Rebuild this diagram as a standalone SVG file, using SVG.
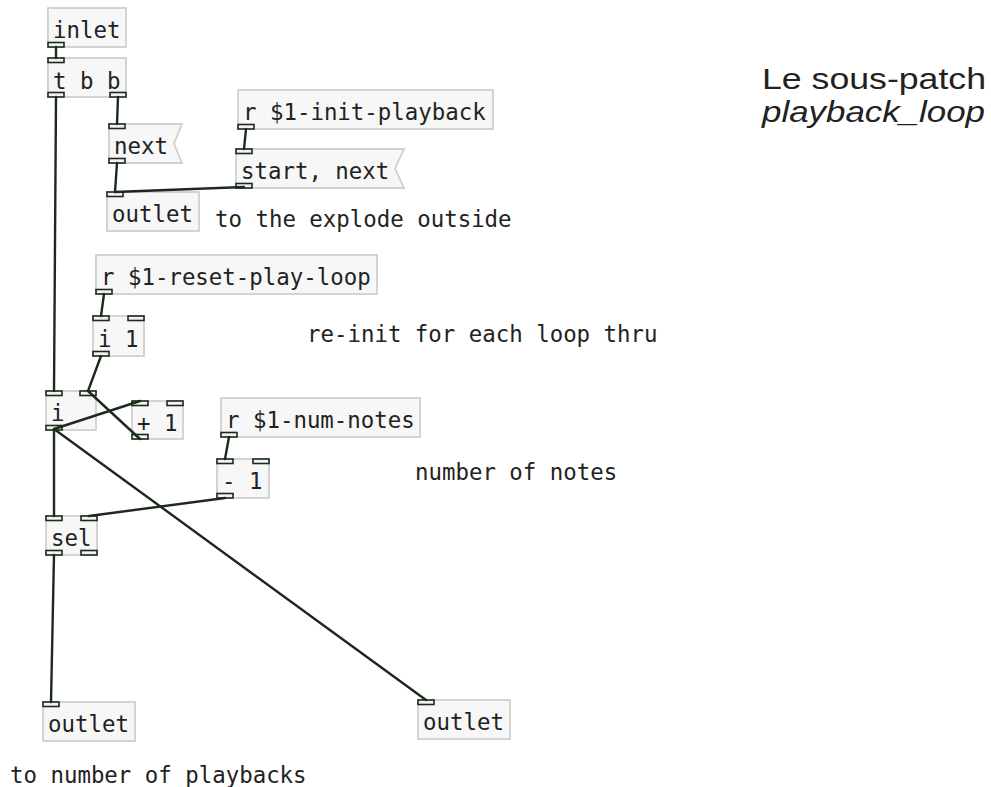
<svg xmlns="http://www.w3.org/2000/svg" width="991" height="787" viewBox="0 0 991 787">
<style>
.box{fill:#f6f7f6;stroke:#cfd0cf;stroke-width:1.8}
.port{fill:#f3f5f3;stroke:#1b2a1b;stroke-width:1.6}
.t{font-family:"DejaVu Sans Mono",monospace;font-size:22.4px;fill:#222}
.cord{stroke:#1b2a1b;stroke-width:2.4;fill:none;stroke-linecap:round}
.title{font-family:"Liberation Sans",Arial,sans-serif;font-size:30px;fill:#222}
</style>
<rect width="991" height="787" fill="#ffffff"/>
<g id="nodes">
<g id="inlet"><rect class="box" x="48" y="8" width="78" height="39"/><text class="t" x="53" y="37.5">inlet</text><rect class="port" x="48" y="42.5" width="16" height="4.5"/></g>
<g id="tbb"><rect class="box" x="48" y="58" width="78" height="39"/><text class="t" x="53" y="88.5">t b b</text><rect class="port" x="48" y="58" width="16" height="4.5"/><rect class="port" x="110" y="92.5" width="16" height="4.5"/><rect class="port" x="48" y="92.5" width="16" height="4.5"/></g>
<g id="next"><path class="box" d="M109,124 H182 L174,143.5 L182,163 H109 Z"/><text class="t" x="114" y="153.5">next</text><rect class="port" x="109" y="124" width="16" height="4.5"/><rect class="port" x="109" y="158.5" width="16" height="4.5"/></g>
<g id="outlet1"><rect class="box" x="107" y="192" width="92" height="39"/><text class="t" x="112" y="221.5">outlet</text><rect class="port" x="107" y="192" width="16" height="4.5"/></g>
<g id="rinit"><rect class="box" x="238" y="90" width="255" height="39"/><text class="t" x="243" y="119.5">r $1-init-playback</text><rect class="port" x="238" y="124.5" width="16" height="4.5"/></g>
<g id="startnext"><path class="box" d="M236,149 H404 L395,168.5 L404,188 H236 Z"/><text class="t" x="241" y="178.5">start, next</text><rect class="port" x="236" y="149" width="16" height="4.5"/><rect class="port" x="236" y="183.5" width="16" height="4.5"/></g>
<g id="rreset"><rect class="box" x="96" y="255" width="281" height="39"/><text class="t" x="101" y="284.5">r $1-reset-play-loop</text><rect class="port" x="96" y="289.5" width="16" height="4.5"/></g>
<g id="i1"><rect class="box" x="93" y="316" width="51" height="40"/><text class="t" x="98" y="346.5">i 1</text><rect class="port" x="93" y="316" width="16" height="4.5"/><rect class="port" x="128" y="316" width="16" height="4.5"/><rect class="port" x="93" y="351.5" width="16" height="4.5"/></g>
<g id="i"><rect class="box" x="46" y="391" width="50" height="39"/><text class="t" x="51" y="420.5">i</text><rect class="port" x="46" y="391" width="16" height="4.5"/><rect class="port" x="80" y="391" width="16" height="4.5"/><rect class="port" x="46" y="425.5" width="16" height="4.5"/></g>
<g id="plus1"><rect class="box" x="132" y="401" width="51" height="38"/><text class="t" x="137" y="430.5">+ 1</text><rect class="port" x="132" y="401" width="16" height="4.5"/><rect class="port" x="167" y="401" width="16" height="4.5"/><rect class="port" x="132" y="434.5" width="16" height="4.5"/></g>
<g id="rnum"><rect class="box" x="221" y="398" width="199" height="39"/><text class="t" x="226" y="427.5">r $1-num-notes</text><rect class="port" x="221" y="432.5" width="16" height="4.5"/></g>
<g id="minus1"><rect class="box" x="217" y="459" width="52" height="39"/><text class="t" x="222" y="488.5">- 1</text><rect class="port" x="217" y="459" width="16" height="4.5"/><rect class="port" x="253" y="459" width="16" height="4.5"/><rect class="port" x="217" y="493.5" width="16" height="4.5"/></g>
<g id="sel"><rect class="box" x="46" y="516" width="51" height="39"/><text class="t" x="51" y="545.5">sel</text><rect class="port" x="46" y="516" width="16" height="4.5"/><rect class="port" x="81" y="516" width="16" height="4.5"/><rect class="port" x="46" y="550.5" width="16" height="4.5"/><rect class="port" x="81" y="550.5" width="16" height="4.5"/></g>
<g id="outlet2"><rect class="box" x="43" y="702" width="92" height="39"/><text class="t" x="48" y="731.5">outlet</text><rect class="port" x="43" y="702" width="16" height="4.5"/></g>
<g id="outlet3"><rect class="box" x="418" y="700" width="92" height="39"/><text class="t" x="423" y="729.5">outlet</text><rect class="port" x="418" y="700" width="16" height="4.5"/></g>
<g id="comments">
<text class="t" x="215" y="227">to the explode outside</text>
<text class="t" x="307" y="342">re-init for each loop thru</text>
<text class="t" x="415" y="480">number of notes</text>
<text class="t" x="10" y="783">to number of playbacks</text>
</g>
<g id="title">
<text class="title" x="762" y="89" textLength="224" lengthAdjust="spacingAndGlyphs">Le sous-patch</text>
<text class="title" x="762" y="122" font-style="italic" textLength="223" lengthAdjust="spacingAndGlyphs">playback_loop</text>
</g>
</g>
<g id="connectors">
<line class="cord" x1="56" y1="47" x2="56" y2="58"/>
<line class="cord" x1="56" y1="97" x2="54" y2="391"/>
<line class="cord" x1="118" y1="97" x2="117" y2="124"/>
<line class="cord" x1="117" y1="163" x2="115" y2="192"/>
<line class="cord" x1="246" y1="129" x2="244" y2="149"/>
<line class="cord" x1="244" y1="187" x2="115" y2="192"/>
<line class="cord" x1="104" y1="294" x2="101" y2="316"/>
<line class="cord" x1="101" y1="356" x2="88" y2="391"/>
<line class="cord" x1="54" y1="429" x2="140" y2="401"/>
<line class="cord" x1="140" y1="439" x2="88" y2="391"/>
<line class="cord" x1="229" y1="437" x2="225" y2="459"/>
<line class="cord" x1="225" y1="498" x2="89" y2="516"/>
<line class="cord" x1="54" y1="430" x2="54" y2="516"/>
<line class="cord" x1="54" y1="429" x2="426" y2="700"/>
<line class="cord" x1="54" y1="555" x2="51" y2="702"/>
</g>
</svg>
